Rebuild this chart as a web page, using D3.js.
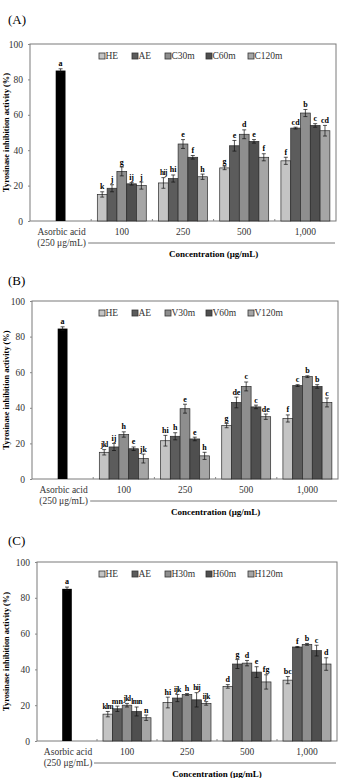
<!DOCTYPE html>
<html>
<head>
<meta charset="utf-8">
<script src="https://cdn.jsdelivr.net/npm/d3@7"></script>
<style>
  body { margin: 0; background: #fff; }
  svg { display: block; font-family: "Liberation Serif", "DejaVu Serif", serif; }
</style>
</head>
<body>
<svg id="chart" width="344" height="778"></svg>
<script>
// -------------------- DATA -------------------- //
const concentrations = ["100", "250", "500", "1,000"];
const yTicks = [0, 20, 40, 60, 80, 100];

const ascorbic = { A: 85, B: 84.5, C: 85 };
const ascorbicErr = { A: 1, B: 1, C: 1 };

const seriesA = ["HE", "AE", "C30m", "C60m", "C120m"];
const seriesB = ["HE", "AE", "V30m", "V60m", "V120m"];
const seriesC = ["HE", "AE", "H30m", "H60m", "H120m"];

// rows = concentration, columns = series
const valuesA = [[15, 18.5, 28, 21, 20], [21.5, 24, 43.5, 36, 25], [30, 42.5, 49, 45, 36], [34, 52.5, 61, 54, 51]];
const errorsA = [[1.5, 2, 2.5, 0.7, 2], [3, 2, 2.5, 1, 1.5], [1, 3, 2.5, 1, 2], [2, 0.5, 2, 1, 3]];
const lettersA = [["k", "j", "g", "ij", "j"], ["hij", "hi", "e", "f", "h"], ["g", "e", "d", "e", "f"], ["f", "cd", "b", "c", "cd"]];

const valuesB = [[15, 18, 25, 17, 11.5], [21.5, 24, 39.5, 22.5, 13], [30, 43, 52, 40.5, 35], [34, 52.5, 57.5, 52, 43]];
const errorsB = [[1.5, 2, 1.5, 1, 2.5], [3, 2, 2.5, 1, 2], [1.2, 3, 2.5, 1, 1.5], [2, 0.5, 0.5, 1, 2.5]];
const lettersB = [["jkl", "ij", "h", "e", "jk"], ["hi", "h", "e", "e", "h"], ["g", "de", "c", "c", "de"], ["f", "c", "b", "b", "c"]];

const valuesC = [[15, 18, 20, 16.5, 13], [21.5, 24, 26, 23, 21], [30.5, 43, 43.5, 38.5, 33], [34, 52.5, 54, 50.5, 43]];
const errorsC = [[1.5, 1.5, 1, 2.5, 1.5], [3, 2, 0.5, 4, 1], [1, 2.5, 1.5, 3, 4], [2, 0.3, 0.5, 3, 3.5]];
const lettersC = [["klm", "mn", "jkl", "lmn", "n"], ["hi", "ijk", "h", "hij", "ijk"], ["d", "g", "d", "e", "fg"], ["bc", "f", "b", "c", "d"]];

const colors = ["#c4c4c4", "#5c5c5c", "#8e8e8e", "#4f4f4f", "#a6a6a6"];

// -------------------- LAYOUT -------------------- //
const panels = [
  { id: "(A)", labelY: 19, left: 30, right: 336, top: 44, bottom: 221, series: seriesA, values: valuesA, errors: errorsA, letters: lettersA, key: "A" },
  { id: "(B)", labelY: 280, left: 32, right: 338, top: 301, bottom: 479, series: seriesB, values: valuesB, errors: errorsB, letters: lettersB, key: "B" },
  { id: "(C)", labelY: 540, left: 37, right: 337, top: 562, bottom: 741, series: seriesC, values: valuesC, errors: errorsC, letters: lettersC, key: "C" }
];
const legendX = [102, 135, 168, 209, 251];

const svg = d3.select("#chart");

function drawPanel(p) {
  const g = svg.append("g");
  const cats = ["asc"].concat(concentrations);

  const x = d3.scaleBand().domain(cats).range([p.left, p.right]).padding(0);
  const y = d3.scaleLinear().domain([0, 100]).range([p.bottom, p.top]);
  const inner = d3.scaleBand().domain(d3.range(5)).range([0, x.bandwidth() * 0.8]).padding(0);
  const barW = inner.bandwidth();
  const groupOff = x.bandwidth() * 0.1;

  // panel label
  g.append("text").attr("x", 8).attr("y", p.labelY + 5)
    .attr("font-size", 13).text(p.id);

  // frame
  g.append("rect").attr("x", p.left).attr("y", p.top)
    .attr("width", p.right - p.left).attr("height", p.bottom - p.top)
    .attr("fill", "none").attr("stroke", "#7a7a7a").attr("stroke-width", 1);

  // y axis
  const yAxis = d3.axisLeft(y).tickValues(yTicks).tickSize(2).tickPadding(5);
  const ya = g.append("g").attr("transform", `translate(${p.left},0)`).call(yAxis);
  ya.select(".domain").remove();
  ya.selectAll("line").attr("stroke", "#888");
  ya.selectAll("text").attr("font-family", "Liberation Serif").attr("font-size", 9.5).attr("fill", "#333");

  // y title
  g.append("text")
    .attr("transform", `translate(9,${(p.top + p.bottom) / 2}) rotate(-90)`)
    .attr("text-anchor", "middle").attr("font-size", 8.3).attr("font-weight", "bold")
    .text("Tyrosinase inhibition activity (%)");

  // x ticks at band boundaries
  g.selectAll(".xt").data(cats.slice(1)).join("line")
    .attr("x1", d => x(d)).attr("x2", d => x(d))
    .attr("y1", p.bottom).attr("y2", p.bottom - 2)
    .attr("stroke", "#888");

  // category labels
  g.append("text").attr("x", x("asc") + x.bandwidth() / 2 + 1).attr("y", p.bottom + 14)
    .attr("text-anchor", "middle").attr("font-size", 9.5).attr("fill", "#333").text("Asorbic acid");
  g.append("text").attr("x", x("asc") + x.bandwidth() / 2 + 1).attr("y", p.bottom + 25)
    .attr("text-anchor", "middle").attr("font-size", 9.5).attr("fill", "#333").text("(250 μg/mL)");
  g.selectAll(".cl").data(concentrations).join("text")
    .attr("x", d => x(d) + x.bandwidth() / 2).attr("y", p.bottom + 14)
    .attr("text-anchor", "middle").attr("font-size", 9.5).attr("fill", "#333").text(d => d);
  g.append("line").attr("x1", x("100") - 3).attr("x2", p.right - 1)
    .attr("y1", p.bottom + 22).attr("y2", p.bottom + 22).attr("stroke", "#555").attr("stroke-width", 0.8);
  g.append("text").attr("x", (x("100") + p.right) / 2).attr("y", p.bottom + 36)
    .attr("text-anchor", "middle").attr("font-size", 9).attr("font-weight", "bold")
    .text("Concentration (μg/mL)");

  // ascorbic acid bar
  const ax = x("asc") + x.bandwidth() / 2 - barW / 2;
  g.append("rect").attr("x", ax).attr("y", y(ascorbic[p.key]))
    .attr("width", barW).attr("height", y(0) - y(ascorbic[p.key])).attr("fill", "#000");
  errorBar(g, ax + barW / 2, y(ascorbic[p.key] + ascorbicErr[p.key]), y(ascorbic[p.key] - ascorbicErr[p.key]));
  g.append("text").attr("x", ax + barW / 2).attr("y", y(ascorbic[p.key] + ascorbicErr[p.key]) - 3)
    .attr("text-anchor", "middle").attr("font-size", 8).attr("font-weight", "bold")
    .attr("fill", "#000").text("a");

  // grouped bars
  concentrations.forEach((c, ci) => {
    p.values[ci].forEach((v, si) => {
      const bx = x(c) + groupOff + inner(si);
      const e = p.errors[ci][si];
      g.append("rect").attr("x", bx).attr("y", y(v))
        .attr("width", barW).attr("height", y(0) - y(v))
        .attr("fill", colors[si]).attr("stroke", "#2a2a2a").attr("stroke-width", 0.7);
      errorBar(g, bx + barW / 2, y(v + e), y(v - e));
    });
    // letters drawn after bars so they sit on top
    p.values[ci].forEach((v, si) => {
      const bx = x(c) + groupOff + inner(si);
      const e = p.errors[ci][si];
      const txt = p.letters[ci][si];
      g.append("text").attr("x", bx + barW / 2).attr("y", y(v + e) - 2.5)
        .attr("text-anchor", "middle").attr("font-size", txt.length > 2 ? 7.2 : 8)
        .attr("letter-spacing", txt.length > 2 ? -0.5 : 0)
        .attr("font-weight", "bold").attr("fill", "#000")
        .text(txt);
    });
  });

  // legend
  p.series.forEach((s, i) => {
    const lx = legendX[i], ly = p.top + 12;
    g.append("rect").attr("x", lx - 3).attr("y", ly - 3).attr("width", 6).attr("height", 6)
      .attr("fill", colors[i]).attr("stroke", "#333").attr("stroke-width", 0.8);
    g.append("text").attr("x", lx + 3.5).attr("y", ly + 3.3)
      .attr("font-size", 9.5).attr("fill", "#333").text(s);
  });
}

function errorBar(g, cx, y1, y2) {
  g.append("line").attr("x1", cx).attr("x2", cx).attr("y1", y1).attr("y2", y2)
    .attr("stroke", "#111").attr("stroke-width", 0.7);
  [y1, y2].forEach(yy => g.append("line").attr("x1", cx - 2).attr("x2", cx + 2)
    .attr("y1", yy).attr("y2", yy).attr("stroke", "#111").attr("stroke-width", 0.7));
}

panels.forEach(drawPanel);
</script>
</body>
</html>
